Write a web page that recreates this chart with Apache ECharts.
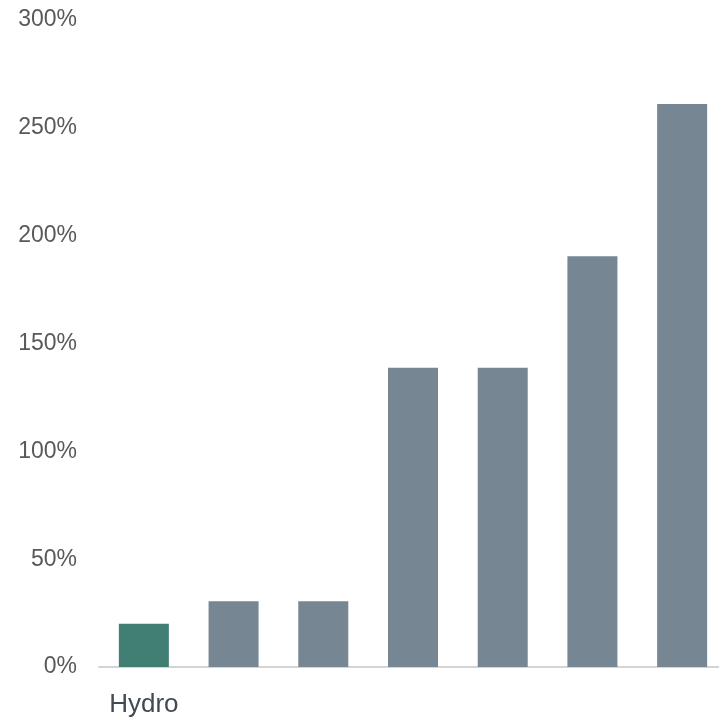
<!DOCTYPE html>
<html>
<head>
<meta charset="utf-8">
<script src="https://cdn.jsdelivr.net/npm/echarts@6/dist/echarts.min.js"></script>
<style>html,body{margin:0;padding:0;background:#fff;overflow:hidden;width:719px;height:721px;}#chart{width:727px;height:721px;}</style>
</head>
<body>
<div id="chart"></div>
<script>
const categories = ["Hydro", "", "", "", "", "", ""];
const values = [20, 30.5, 30.5, 138.7, 138.7, 190.5, 261];
const barColors = ["#417f75", "#768692", "#768692", "#768692", "#768692", "#768692", "#768692"];
const yTicks = [0, 50, 100, 150, 200, 250, 300];

const chart = echarts.init(document.getElementById('chart'), null, {renderer: 'canvas'});
chart.setOption({
  animation: false,
  grid: {left: 99, top: 20, right: 0, bottom: 54, containLabel: false},
  xAxis: {
    type: 'category',
    data: categories,
    axisLine: {show: true, lineStyle: {color: '#d4d4d4', width: 2}},
    axisTick: {show: false},
    axisLabel: {color: '#3f4a55', fontSize: 26, fontFamily: 'Liberation Sans, Arial, sans-serif', margin: 25, interval: 0}
  },
  yAxis: {
    type: 'value',
    min: yTicks[0],
    max: yTicks[yTicks.length - 1],
    interval: 50,
    axisLine: {show: false},
    axisTick: {show: false},
    splitLine: {show: false},
    axisLabel: {color: '#595959', fontSize: 23, fontFamily: 'Liberation Sans, Arial, sans-serif', margin: 22, padding: [4, 0, 0, 0], formatter: v => v + '%'}
  },
  series: [{
    type: 'bar',
    barWidth: 50,
    data: values.map((v, i) => ({value: v, itemStyle: {color: barColors[i]}}))
  }]
});
</script>
</body>
</html>
